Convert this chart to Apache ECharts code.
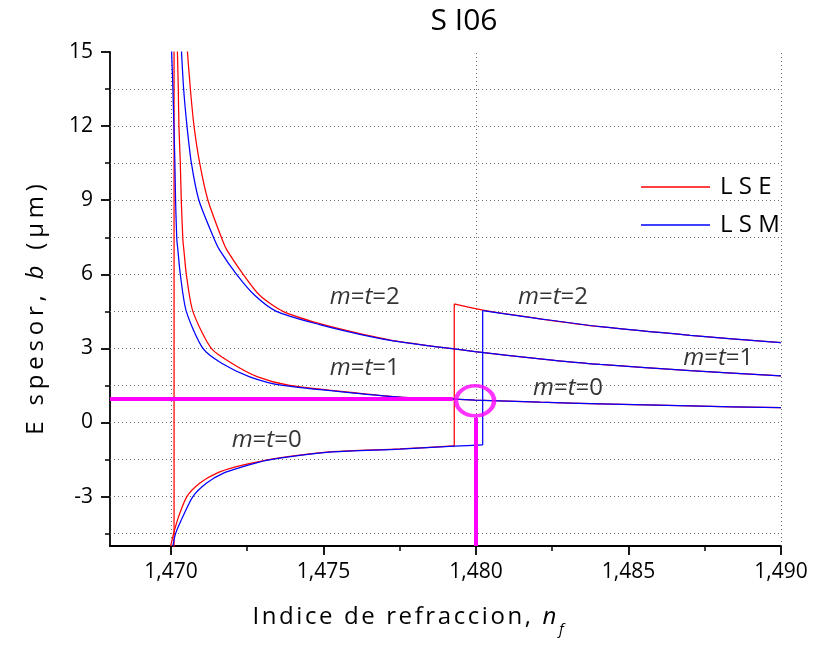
<!DOCTYPE html>
<html>
<head>
<meta charset="utf-8">
<script src="https://cdn.jsdelivr.net/npm/echarts@6/dist/echarts.min.js"></script>
<style>
  html, body { margin: 0; padding: 0; background: #fff; }
  #chart { width: 813px; height: 648px; }
</style>
</head>
<body>
<div id="chart"></div>
<script>
// Slab waveguide SI06: film thickness b (µm) against film index n_f, TE (LSE) and TM (LSM) modes.

const X_MIN = 1.468, X_MAX = 1.490;
const Y_MIN = -5, Y_MAX = 15;
const X_MAJOR = [1.470, 1.475, 1.480, 1.485, 1.490];
const X_MINOR = [1.4725, 1.4775, 1.4825, 1.4875];
const Y_MAJOR = [-3, 0, 3, 6, 9, 12, 15];
const Y_MINOR = [-4.5, -1.5, 1.5, 4.5, 7.5, 10.5, 13.5];
const X_GRID = [1.470, 1.475, 1.480, 1.485];
const Y_GRID = [-4.5, -3, -1.5, 0, 1.5, 3, 4.5, 6, 7.5, 9, 10.5, 12, 13.5];

// LSE (TE) branches, [n_f, b]
const lseUpper = [
  [1.470508, 15.5], [1.470633, 13.53], [1.470751, 12.04], [1.470938, 10.52],
  [1.471211, 9.0], [1.471684, 7.39], [1.471835, 6.98], [1.47236, 6.01],
  [1.472908, 5.15], [1.473673, 4.50], [1.474878, 4.0], [1.476191, 3.60],
  [1.477504, 3.27], [1.479967, 2.87], [1.4821, 2.58], [1.48407, 2.35],
  [1.487025, 2.10], [1.49, 1.89]
];
const lseMiddle = [
  [1.470200, 15.5], [1.470239, 13.53], [1.470259, 12.04], [1.470305, 10.52],
  [1.470337, 9.0], [1.47039, 7.39], [1.470423, 6.98], [1.470502, 6.0],
  [1.470718, 4.5], [1.471322, 3.0], [1.471989, 2.4], [1.472842, 1.85],
  [1.473893, 1.5], [1.476191, 1.18], [1.477504, 1.03], [1.479287, 0.95],
  [1.479967, 0.91], [1.4821, 0.82], [1.48407, 0.75], [1.487025, 0.67], [1.49, 0.60]
];
const lseLower = [
  [1.46999, -5.0], [1.470085, -4.5], [1.470249, -3.81], [1.470521, -3.0],
  [1.470938, -2.46], [1.471487, -2.06], [1.472143, -1.79], [1.473128, -1.52],
  [1.474221, -1.32], [1.475305, -1.18], [1.477504, -1.07], [1.479287, -0.95],
  [1.479287, 4.80], [1.480219, 4.55], [1.4821, 4.20], [1.48407, 3.88],
  [1.487025, 3.53], [1.49, 3.23]
];
const lseCut = [[1.4701, -5.5], [1.4701, 15.5]];

// LSM (TM) branches, [n_f, b]
const lsmUpper = [
  [1.470324, 15.5], [1.470413, 13.53], [1.470521, 12.04], [1.470666, 10.52],
  [1.470915, 9.0], [1.471431, 7.39], [1.471595, 6.98], [1.472143, 6.01],
  [1.472744, 5.15], [1.473456, 4.50], [1.474878, 3.96], [1.476191, 3.57],
  [1.477504, 3.26], [1.479967, 2.87], [1.4821, 2.58], [1.48407, 2.35],
  [1.487025, 2.10], [1.49, 1.89]
];
const lsmMiddle = [
  [1.470006, 15.5], [1.470062, 13.53], [1.470095, 12.04], [1.470127, 10.52],
  [1.47015, 9.0], [1.470193, 7.39], [1.470226, 6.98], [1.470305, 6.0],
  [1.470502, 4.5], [1.471047, 3.0], [1.47166, 2.4], [1.47258, 1.85],
  [1.473663, 1.5], [1.476191, 1.17], [1.477504, 1.03], [1.479287, 0.95],
  [1.479967, 0.91], [1.4821, 0.82], [1.48407, 0.75], [1.487025, 0.67], [1.49, 0.60]
];
const lsmLower = [
  [1.470062, -5.0], [1.47015, -4.5], [1.47039, -3.81], [1.470718, -3.0],
  [1.471158, -2.46], [1.471703, -2.06], [1.47236, -1.79], [1.473128, -1.53],
  [1.474221, -1.33], [1.475305, -1.19], [1.477504, -1.08], [1.479287, -0.96],
  [1.480219, -0.91], [1.480219, 4.53], [1.4821, 4.20], [1.48407, 3.88],
  [1.487025, 3.53], [1.49, 3.23]
];

// Design point: b = 0.9 µm read at n_f = 1.480
const designPoint = [1.47997, 0.88];
const designLevel = [[X_MIN, 0.95], [1.47924, 0.95]];
const designDrop = [[1.48, 0.2], [1.48, Y_MIN]];

// Mode annotations
const modeLabelPos = [
  [1.475206, 5.08], [1.475206, 2.21], [1.481378, 5.08],
  [1.486795, 2.61], [1.481871, 1.40], [1.471989, -0.71]
];
const modeLabelOrder = ['2', '1', '2', '1', '0', '0'];

const FONT = '"Open Sans", "DejaVu Sans", sans-serif';
const RED = '#ff0000', BLUE = '#0000ff', MAGENTA = '#ff00ff';

// Each character becomes its own rich token so the letters can be spread out.
function spaced(parts) {
  return parts.map(([txt, sty]) =>
    Array.from(txt).map(ch => '{' + sty + '|' + ch + '}').join('')
  ).join('');
}
function nameRich(gap) {
  return {
    r: { fontSize: 24, fontFamily: FONT, color: '#000', padding: [0, gap, 0, 0] },
    i: { fontSize: 24, fontFamily: FONT, color: '#000', fontStyle: 'italic', padding: [0, gap, 0, 0] },
    s: { fontSize: 15, fontFamily: FONT, color: '#000', fontStyle: 'italic', padding: [24, 0, 0, 0] }
  };
}
const fmtTick = v => v.toFixed(3).replace('.', ',');

// Break a branch where n_f repeats so the vertical jump stays a straight segment.
function splitRuns(data) {
  const runs = [];
  let cur = [data[0]];
  for (let k = 1; k < data.length; k++) {
    if (data[k][0] === data[k - 1][0]) {
      if (cur.length > 1) runs.push(cur);
      runs.push([data[k - 1], data[k]]);
      cur = [data[k]];
    } else {
      cur.push(data[k]);
    }
  }
  if (cur.length > 1) runs.push(cur);
  return runs;
}

function curves(name, data, color, z) {
  return splitRuns(data).map(run => ({
    name: name, type: 'line', data: run, symbol: 'none', showSymbol: false,
    smooth: run.length > 2 ? 0.25 : false,
    clip: true, z: z, animation: false,
    lineStyle: { color: color, width: 1.25 }, itemStyle: { color: color }
  }));
}

const gridSeries = {
  type: 'line', data: [], silent: true, animation: false,
  markLine: {
    silent: true, symbol: 'none', z: 1, animation: false,
    label: { show: false },
    lineStyle: { color: '#6e6e6e', width: 1, type: [1, 3] },
    emphasis: { disabled: true },
    data: Y_GRID.map(v => ({ yAxis: v })).concat(X_GRID.map(v => ({ xAxis: v })))
  }
};

const chart = echarts.init(document.getElementById('chart'));
const series = [gridSeries]
  .concat(curves('L S E', lseUpper, RED, 2))
  .concat(curves('L S E', lseMiddle, RED, 2))
  .concat(curves('L S E', lseLower, RED, 2))
  .concat(curves('L S E', lseCut, RED, 2))
  .concat(curves('L S M', lsmUpper, BLUE, 3))
  .concat(curves('L S M', lsmMiddle, BLUE, 3))
  .concat(curves('L S M', lsmLower, BLUE, 3))
  .concat([
    {
      type: 'line', data: designLevel, symbol: 'none', z: 6, animation: false,
      lineStyle: { color: MAGENTA, width: 4 }, silent: true
    },
    {
      type: 'line', data: designDrop, symbol: 'none', z: 6, animation: false,
      lineStyle: { color: MAGENTA, width: 4 }, silent: true
    },
    {
      type: 'scatter', data: [designPoint], z: 6, animation: false, silent: true,
      symbol: 'path://M0,10A10,10,0,1,1,20,10A10,10,0,1,1,0,10Z',
      symbolSize: [38, 30],
      itemStyle: { color: 'rgba(0,0,0,0)', borderColor: MAGENTA, borderWidth: 4 }
    },
    {
      type: 'scatter', z: 7, animation: false, silent: true, symbolSize: 0,
      data: modeLabelPos.map((p, k) => ({ value: p, mode: modeLabelOrder[k] })),
      label: {
        show: true, position: 'right', distance: 0, color: '#000',
        formatter: p => '{i|m}{r|=}{i|t}{r|=}{r|' + p.data.mode + '}',
        rich: {
          i: { fontSize: 24, fontFamily: FONT, fontStyle: 'italic', color: '#000' },
          r: { fontSize: 24, fontFamily: FONT, color: '#000' }
        }
      }
    }
  ]);

chart.setOption({
  animation: false,
  backgroundColor: '#fff',
  graphic: [{
    type: 'text', x: 464, y: 6, silent: true,
    style: { text: 'S I06', textAlign: 'center', fontSize: 30, fontFamily: FONT, fill: '#000' }
  }],
  legend: {
    orient: 'vertical', left: 636, top: 170, itemWidth: 69, itemHeight: 1.5,
    itemGap: 14, icon: 'rect', selectedMode: false,
    data: ['L S E', 'L S M'],
    textStyle: { fontSize: 24, fontFamily: FONT, color: '#000', lineHeight: 24, padding: [0, 0, 0, 5] }
  },
  grid: { left: 110, right: 32, top: 52, bottom: 102, containLabel: false },
  xAxis: [{
    type: 'value', min: X_MIN, max: X_MAX,
    name: spaced([['Indice de refraccion, ', 'r'], ['n', 'i'], ['f', 's']]),
    nameLocation: 'middle', nameGap: 52,
    nameTextStyle: { rich: nameRich(2.6), padding: [0, 75, 0, 0] },
    axisLine: { show: true, onZero: false, lineStyle: { color: '#000', width: 1.8 } },
    axisTick: { show: true, customValues: X_MAJOR, length: 9, lineStyle: { color: '#000', width: 1.8 } },
    axisLabel: { customValues: X_MAJOR, formatter: fmtTick, fontSize: 21, fontFamily: FONT, color: '#000', margin: 16 },
    splitLine: { show: false }
  }, {
    type: 'value', min: X_MIN, max: X_MAX, position: 'bottom', offset: 0,
    axisLine: { show: false, onZero: false },
    axisTick: { show: true, customValues: X_MINOR, length: 5, lineStyle: { color: '#000', width: 1.5 } },
    axisLabel: { show: false }, splitLine: { show: false }
  }],
  yAxis: [{
    type: 'value', min: Y_MIN, max: Y_MAX,
    name: spaced([['E spesor, ', 'r'], ['b', 'i'], [' (µm)', 'r']]),
    nameLocation: 'middle', nameGap: 62, nameRotate: 90,
    nameTextStyle: { rich: nameRich(4.8), padding: [0, 16, 0, 0] },
    axisLine: { show: true, onZero: false, lineStyle: { color: '#000', width: 1.8 } },
    axisTick: { show: true, customValues: Y_MAJOR, length: 9, lineStyle: { color: '#000', width: 1.8 } },
    axisLabel: { customValues: Y_MAJOR, fontSize: 21, fontFamily: FONT, color: '#000', margin: 17 },
    splitLine: { show: false }
  }, {
    type: 'value', min: Y_MIN, max: Y_MAX, position: 'left', offset: 0,
    axisLine: { show: false, onZero: false },
    axisTick: { show: true, customValues: Y_MINOR, length: 5, lineStyle: { color: '#000', width: 1.5 } },
    axisLabel: { show: false }, splitLine: { show: false }
  }],
  series: series
});
</script>
</body>
</html>
